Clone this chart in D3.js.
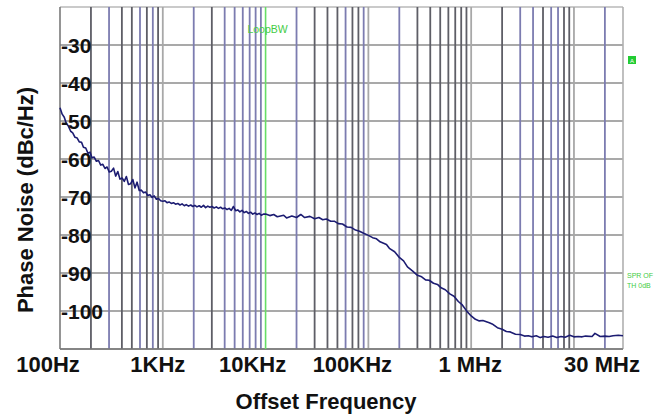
<!DOCTYPE html>
<html><head><meta charset="utf-8">
<script src="https://cdn.jsdelivr.net/npm/d3@7/dist/d3.min.js"></script>
<style>
html,body{margin:0;padding:0;background:#fff;}
text{font-family:"Liberation Sans",Arial,sans-serif;}
</style></head>
<body><svg id="c" width="670" height="414"></svg>
<script>
// ---- data ----
const freqs = [
 100,105,110,115,121,127,133,140,147,154,162,169,178,187,196,205,215,226,237,249,261,274,287,301,316,332,348,365,383,402,422,442,464,487,511,536,562,590,619,649,681,715,750,787,825,866,909,953,
 1000,1050,1100,1150,1210,1270,1330,1400,1470,1540,1620,1690,1780,1870,1960,2050,2150,2260,2370,2490,2610,2740,2870,3010,3160,3320,3480,3650,3830,4020,4220,4420,4640,4870,5110,5360,5620,5900,6190,6490,6810,7150,7500,7870,8250,8660,9090,9530,
 10000,11000,12000,13000,15000,16000,18000,20000,22000,24000,27000,30000,33000,36000,39000,43000,47000,51000,56000,62000,68000,75000,82000,91000,
 100000,110000,120000,130000,150000,160000,180000,200000,220000,240000,270000,300000,330000,360000,390000,430000,470000,510000,560000,620000,680000,750000,820000,910000,
 1000000,1100000,1200000,1300000,1500000,1600000,1800000,2000000,2200000,2400000,2700000,3000000,3300000,3600000,3900000,4300000,4700000,5100000,5600000,6200000,6800000,7500000,8200000,9100000,
 10000000,11000000,12000000,13000000,15000000,16000000,18000000,20000000,22000000,24000000,27000000,30000000
];
const phaseNoise = [
 -46.5,-48.2,-49.0,-50.6,-51.4,-52.7,-53.1,-54.3,-54.5,-55.5,-55.6,-56.9,-57.1,-58.5,-58.2,-59.7,-59.5,-60.6,-60.4,-61.6,-61.4,-62.5,-62.1,-63.4,-63.2,-62.4,-64.5,-63.3,-65.3,-65.0,-65.9,-64.6,-66.7,-66.5,-65.4,-67.6,-66.1,-68.3,-68.2,-68.9,-68.7,-69.6,-69.4,-70.1,-69.7,-70.6,-70.4,-71.0,
 -71.1,-71.0,-71.5,-71.3,-71.7,-71.5,-71.9,-71.7,-72.1,-71.8,-72.3,-72.0,-72.4,-72.1,-72.5,-72.2,-72.6,-72.3,-72.7,-72.2,-72.8,-72.4,-72.7,-72.5,-72.9,-72.6,-73.0,-72.7,-73.1,-72.9,-73.3,-73.0,-73.5,-72.5,-73.6,-73.4,-73.9,-73.5,-74.1,-73.8,-74.3,-74.0,-74.5,-74.2,-74.6,-74.3,-74.8,-74.5,
 -74.5,-74.9,-74.6,-75.2,-74.8,-75.5,-75.0,-75.4,-74.6,-75.4,-75.1,-75.7,-75.4,-76.0,-75.8,-76.4,-76.4,-77.0,-77.1,-77.9,-78.0,-78.7,-79.0,-79.6,
 -80.1,-80.7,-81.0,-81.8,-82.5,-83.5,-84.4,-85.9,-86.8,-88.4,-89.5,-90.6,-91.0,-91.8,-91.9,-92.7,-93.0,-93.9,-94.4,-95.5,-96.1,-97.5,-98.4,-100.1,
 -101.3,-102.2,-102.6,-102.5,-103.1,-103.4,-104.4,-104.8,-105.4,-105.5,-106.1,-106.2,-106.6,-106.5,-106.8,-106.5,-107.0,-106.7,-106.9,-106.6,-107.0,-106.7,-106.9,-106.4,
 -106.8,-106.7,-106.8,-106.6,-106.7,-105.9,-106.7,-106.6,-106.7,-106.5,-106.4,-106.5
];
const yTicks = [-30,-40,-50,-60,-70,-80,-90,-100];
const xTickValues = [100,1000,10000,100000,1000000,30000000];
const xTickLabels = ["100Hz","1KHz","10KHz","100KHz","1 MHz","30 MHz"];
const loopBW = 10000;
const markerLines = ["SPR OF","TH 0dB"];

// ---- layout ----
const svg = d3.select("#c");
const L=60, R=623, T=7, B=349;
const x = d3.scaleLog().domain([100,30000000]).range([L,R]);
const y = d3.scaleLinear().domain([-110,-20]).range([B,T]);

// horizontal grid
svg.append("g").selectAll("line").data(d3.range(-110,-19,10)).join("line")
  .attr("x1",L).attr("x2",R).attr("y1",d=>y(d)).attr("y2",d=>y(d))
  .attr("stroke",d=>d===-20?"#b8b8b8":"#8c8c8c").attr("stroke-width",1.6);

// vertical grid (minor lines)
const blueSet = new Set([300,600,800,2000,4000,5000,6000,7000,8000,9000,20000,60000,90000,200000,3000000,4000000,6000000,7000000,20000000]);
const minor = [];
for (let dec=100; dec<30000000; dec*=10){
  for (let m=2;m<=9;m++){ const f=dec*m; if(f<30000000) minor.push(f); }
}
svg.append("g").selectAll("line").data(minor.filter(f=>f!==loopBW)).join("line")
  .attr("x1",d=>x(d)).attr("x2",d=>x(d)).attr("y1",T).attr("y2",B)
  .attr("stroke",d=>blueSet.has(d)?"#7c7cb0":"#5e5e66").attr("stroke-width",1.8);
// decade lines
svg.append("g").selectAll("line").data([1000,100000,1000000,10000000]).join("line")
  .attr("x1",d=>x(d)).attr("x2",d=>x(d)).attr("y1",T).attr("y2",B)
  .attr("stroke","#a8a8a8").attr("stroke-width",1.8);
// frame
svg.append("line").attr("x1",R).attr("x2",R).attr("y1",T).attr("y2",B).attr("stroke","#b0b0b0").attr("stroke-width",1.6);
svg.append("line").attr("x1",L).attr("x2",L).attr("y1",T).attr("y2",B).attr("stroke","#7a7a7a").attr("stroke-width",1.6);
svg.append("line").attr("x1",L).attr("x2",R).attr("y1",B).attr("y2",B).attr("stroke","#7a7a7a").attr("stroke-width",1.6);

// loop bandwidth line
svg.append("line").attr("x1",x(loopBW)).attr("x2",x(loopBW)).attr("y1",T).attr("y2",B)
  .attr("stroke","#66dd66").attr("stroke-width",1.6);
svg.append("text").attr("x",x(loopBW)+2).attr("y",33).attr("text-anchor","middle")
  .attr("font-size",10.5).attr("fill","#44cc44").text("LoopBW");

// trace
const pts = freqs.map((f,i)=>[f,phaseNoise[i]]);
svg.append("path").datum(pts)
  .attr("d",d3.line().x(d=>x(d[0])).y(d=>y(d[1])))
  .attr("fill","none").attr("stroke","#1c1c72").attr("stroke-width",1.6).attr("stroke-linejoin","round");

// y tick labels (inside plot)
svg.append("g").selectAll("text").data(yTicks).join("text")
  .attr("x",L+1).attr("y",d=>y(d)+8).attr("font-size",21).attr("font-weight","bold")
  .attr("fill","#111").text(d=>d);

// x tick labels
const xdx = [-12,-5,-13,-16,-1,-21];
svg.append("g").selectAll("text").data(xTickValues).join("text")
  .attr("x",(d,i)=>x(d)+xdx[i]).attr("y",372).attr("text-anchor","middle")
  .attr("font-size",22).attr("font-weight","bold").attr("fill","#111")
  .text((d,i)=>xTickLabels[i]);

// axis titles
svg.append("text").attr("x",326).attr("y",409).attr("text-anchor","middle")
  .attr("font-size",22).attr("font-weight","bold").attr("fill","#111").text("Offset Frequency");
svg.append("text").attr("transform","translate(33,200) rotate(-90)").attr("text-anchor","middle")
  .attr("font-size",22).attr("font-weight","bold").attr("fill","#111").text("Phase Noise (dBc/Hz)");

// marker A
svg.append("rect").attr("x",628).attr("y",56).attr("width",8).attr("height",8).attr("fill","#22cc33");
svg.append("text").attr("x",632).attr("y",62.5).attr("text-anchor","middle").attr("font-size",6).attr("fill","#fff").text("A");
svg.append("g").selectAll("text").data(markerLines).join("text")
  .attr("x",627).attr("y",(d,i)=>278+i*10).attr("font-size",7).attr("fill","#44cc44").text(d=>d);
</script></body></html>
